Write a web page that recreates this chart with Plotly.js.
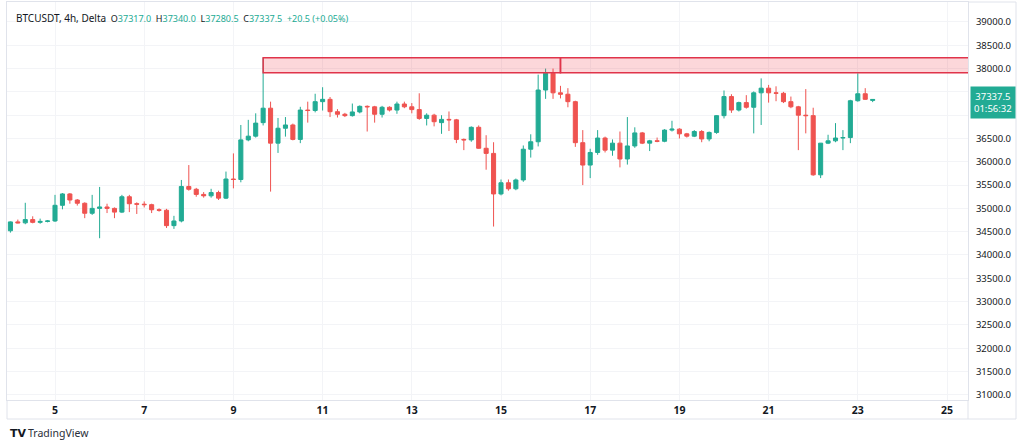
<!DOCTYPE html>
<html>
<head>
<meta charset="utf-8">
<script src="https://cdn.plot.ly/plotly-3.0.1.min.js"></script>
<style>
html,body{margin:0;padding:0;background:#fff;}
#chart{width:1024px;height:447px;}
</style>
</head>
<body>
<div id="chart"></div>
<script>
// 4h candle open times (BTCUSDT, Nov 2023)
const times = [
"2023-11-04 00:00","2023-11-04 04:00","2023-11-04 08:00","2023-11-04 12:00","2023-11-04 16:00","2023-11-04 20:00",
"2023-11-05 00:00","2023-11-05 04:00","2023-11-05 08:00","2023-11-05 12:00","2023-11-05 16:00","2023-11-05 20:00",
"2023-11-06 00:00","2023-11-06 04:00","2023-11-06 08:00","2023-11-06 12:00","2023-11-06 16:00","2023-11-06 20:00",
"2023-11-07 00:00","2023-11-07 04:00","2023-11-07 08:00","2023-11-07 12:00","2023-11-07 16:00","2023-11-07 20:00",
"2023-11-08 00:00","2023-11-08 04:00","2023-11-08 08:00","2023-11-08 12:00","2023-11-08 16:00","2023-11-08 20:00",
"2023-11-09 00:00","2023-11-09 04:00","2023-11-09 08:00","2023-11-09 12:00","2023-11-09 16:00","2023-11-09 20:00",
"2023-11-10 00:00","2023-11-10 04:00","2023-11-10 08:00","2023-11-10 12:00","2023-11-10 16:00","2023-11-10 20:00",
"2023-11-11 00:00","2023-11-11 04:00","2023-11-11 08:00","2023-11-11 12:00","2023-11-11 16:00","2023-11-11 20:00",
"2023-11-12 00:00","2023-11-12 04:00","2023-11-12 08:00","2023-11-12 12:00","2023-11-12 16:00","2023-11-12 20:00",
"2023-11-13 00:00","2023-11-13 04:00","2023-11-13 08:00","2023-11-13 12:00","2023-11-13 16:00","2023-11-13 20:00",
"2023-11-14 00:00","2023-11-14 04:00","2023-11-14 08:00","2023-11-14 12:00","2023-11-14 16:00","2023-11-14 20:00",
"2023-11-15 00:00","2023-11-15 04:00","2023-11-15 08:00","2023-11-15 12:00","2023-11-15 16:00","2023-11-15 20:00",
"2023-11-16 00:00","2023-11-16 04:00","2023-11-16 08:00","2023-11-16 12:00","2023-11-16 16:00","2023-11-16 20:00",
"2023-11-17 00:00","2023-11-17 04:00","2023-11-17 08:00","2023-11-17 12:00","2023-11-17 16:00","2023-11-17 20:00",
"2023-11-18 00:00","2023-11-18 04:00","2023-11-18 08:00","2023-11-18 12:00","2023-11-18 16:00","2023-11-18 20:00",
"2023-11-19 00:00","2023-11-19 04:00","2023-11-19 08:00","2023-11-19 12:00","2023-11-19 16:00","2023-11-19 20:00",
"2023-11-20 00:00","2023-11-20 04:00","2023-11-20 08:00","2023-11-20 12:00","2023-11-20 16:00","2023-11-20 20:00",
"2023-11-21 00:00","2023-11-21 04:00","2023-11-21 08:00","2023-11-21 12:00","2023-11-21 16:00","2023-11-21 20:00",
"2023-11-22 00:00","2023-11-22 04:00","2023-11-22 08:00","2023-11-22 12:00","2023-11-22 16:00","2023-11-22 20:00",
"2023-11-23 00:00","2023-11-23 04:00","2023-11-23 08:00"
];

const openP = [
34520,34710,34690,34760,34700,34720,34730,35066,35310,35180,
35110,34895,35000,35030,35000,34920,35250,35100,35090,35080,
34970,34960,34630,34730,35470,35410,35300,35270,35340,35220,
35630,35620,36470,36550,36840,37150,36400,36720,36790,36480,
37110,37100,37290,37340,37075,37020,36990,37070,37190,37180,
37020,37170,37110,37240,37180,37120,36930,37000,36840,36910,
36900,36480,36470,36740,36290,36180,35310,35550,35420,35610,
36270,36430,37540,37900,37480,37450,37290,36410,35930,36200,
36510,36250,36400,36060,36340,36620,36400,36450,36440,36680,
36700,36600,36550,36650,36490,36630,36990,37400,37110,37270,
37170,37480,37580,37480,37470,37290,37180,37000,36990,35720,
36400,36450,36510,36520,37310,37460,37317
];
const highP = [
34720,34760,35120,34830,34780,34750,35290,35330,35330,35200,
35130,35290,35460,35100,35020,35290,35290,35130,35150,35100,
35000,34990,34840,35610,35930,35440,35350,35420,35380,35790,
36180,36790,36900,37040,38230,37290,36940,36960,36820,37180,
37290,37460,37600,37390,37130,37050,37250,37210,37210,37200,
37200,37190,37290,37290,37260,37470,37040,37030,37000,37080,
36920,36500,36760,36780,36570,36420,35620,35620,35640,36350,
36590,37870,38000,38000,37630,37580,37310,36680,36280,36680,
36540,36480,36650,36960,36740,36640,36470,36520,36700,36880,
36720,36620,36680,36680,36650,37000,37530,37450,37290,37430,
37510,37790,37650,37620,37500,37400,37200,37560,37160,36400,
36580,36830,36680,37330,37900,37580,37340
];
const lowP = [
34480,34680,34660,34680,34670,34700,34710,34980,35100,35060,
34790,34860,34360,34900,34790,34900,34920,34880,35020,34900,
34930,34580,34560,34700,35380,35250,35230,35230,35180,35200,
35430,35560,36440,36520,36780,35360,36190,36540,36460,36400,
36840,37060,37100,36960,36950,36960,36970,37040,36650,36840,
36950,37080,37030,37150,37040,36900,36780,36760,36600,36660,
36400,36250,36430,36280,35830,34610,35280,35380,35390,35570,
36090,36330,37350,37350,37360,37170,36320,35500,35650,36150,
36200,36130,35880,35940,36300,36380,36230,36420,36420,36650,
36500,36520,36530,36420,36440,36600,36930,37050,37080,37140,
36610,36790,37270,37300,37260,37150,36250,36610,35700,35650,
36380,36420,36250,36400,37290,37330,37280.5
];
const closeP = [
34710,34690,34760,34700,34720,34730,35066,35310,35180,35110,
34895,35000,35030,35000,34920,35250,35100,35090,35080,34970,
34960,34630,34730,35470,35410,35300,35270,35340,35220,35630,
35620,36470,36550,36830,37150,36400,36720,36790,36480,37110,
37100,37290,37340,37075,37020,36990,37070,37190,37180,37020,
37170,37110,37240,37180,37120,36930,37000,36860,36910,36900,
36480,36470,36740,36290,36180,35310,35550,35420,35610,36270,
36430,37540,37900,37480,37450,37290,36410,35930,36200,36510,
36250,36400,36060,36340,36620,36400,36450,36440,36680,36700,
36600,36550,36650,36490,36630,36990,37400,37110,37270,37170,
37480,37580,37480,37470,37290,37180,37000,36990,35720,36400,
36450,36510,36520,37310,37460,37340,37337.5
];

// resistance zone drawn on the chart
const zoneLow = 37910;
const zoneHigh = 38230;
const zoneStart = "2023-11-09 16:00";
const zoneSplit = "2023-11-16 08:00";
const zoneEnd = "2023-11-26 00:00";

// axis ticks
const xTickVals = ["2023-11-05","2023-11-07","2023-11-09","2023-11-11","2023-11-13","2023-11-15","2023-11-17","2023-11-19","2023-11-21","2023-11-23","2023-11-25"];
const xTickText = ["5","7","9","11","13","15","17","19","21","23","25"];
const yTickVals = [31000,31500,32000,32500,33000,33500,34000,34500,35000,35500,36000,36500,37000,37500,38000,38500,39000];
// 37000.0 is hidden behind the last-price badge in the reference
const yTickText = ["31000.0","31500.0","32000.0","32500.0","33000.0","33500.0","34000.0","34500.0","35000.0","35500.0","36000.0","36500.0","","37500.0","38000.0","38500.0","39000.0"];

const lastPrice = 37337.5;
const countdown = "01:56:32";
const changeText = "+20.5 (+0.05%)";
const titleText = "BTCUSDT, 4h, Delta";

const UP = "#22ab94", DOWN = "#ef5350", TEXT = "#131722", BORDER = "#e0e3eb";
const FONT = "Noto Sans, Liberation Sans, sans-serif";

const trace = {
  type: "candlestick",
  x: times, open: openP, high: highP, low: lowP, close: closeP,
  increasing: {line: {color: UP, width: 1}, fillcolor: UP},
  decreasing: {line: {color: DOWN, width: 1}, fillcolor: DOWN},
  whiskerwidth: 0,
  hoverinfo: "skip",
  showlegend: false
};

// pixel helpers for paper coords (plot area x 7..968, y 2..400)
const px = v => (v - 7) / 961;
const py = v => (400 - v) / 398;

const sp = "&nbsp;&nbsp;";
const n = openP.length - 1;
const header =
  '<span style="color:' + TEXT + ';font-size:10px">' + titleText + '</span>' + sp +
  '<span style="color:' + TEXT + '">O</span><span style="color:' + UP + '">' + openP[n].toFixed(1) + '</span>' + sp +
  '<span style="color:' + TEXT + '">H</span><span style="color:' + UP + '">' + highP[n].toFixed(1) + '</span>' + sp +
  '<span style="color:' + TEXT + '">L</span><span style="color:' + UP + '">' + lowP[n].toFixed(1) + '</span>' + sp +
  '<span style="color:' + TEXT + '">C</span><span style="color:' + UP + '">' + closeP[n].toFixed(1) + '</span>' + sp +
  '<span style="color:' + UP + '">' + changeText + '</span>';

const layout = {
  width: 1024, height: 447,
  margin: {l: 7, r: 56, t: 2, b: 47},
  paper_bgcolor: "#ffffff", plot_bgcolor: "#ffffff",
  font: {family: FONT, color: TEXT, size: 10},
  boxgap: 0.22,
  xaxis: {
    type: "date",
    range: ["2023-11-03 22:10", "2023-11-25 11:18"],
    rangeslider: {visible: false},
    tickvals: xTickVals, ticktext: xTickText,
    tickfont: {size: 10.5, color: TEXT, weight: "bold", family: FONT},
    showgrid: true, gridcolor: "#f3f4f7", gridwidth: 1,
    showline: true, linecolor: BORDER, linewidth: 1, mirror: true,
    ticks: "", zeroline: false, fixedrange: true
  },
  yaxis: {
    side: "right",
    range: [30888, 39429],
    tickvals: yTickVals, ticktext: yTickText,
    tickfont: {size: 9.5, color: TEXT, family: FONT},
    ticklabelstandoff: 5,
    showgrid: true, gridcolor: "#f3f4f7", gridwidth: 1,
    showline: true, linecolor: BORDER, linewidth: 1, mirror: true,
    ticks: "", zeroline: false, fixedrange: true
  },
  shapes: [
    {type: "rect", xref: "x", yref: "y", x0: zoneStart, x1: zoneSplit, y0: zoneLow, y1: zoneHigh,
     fillcolor: "rgba(242,54,69,0.2)", line: {color: "#e0344a", width: 1.5}, layer: "above"},
    {type: "rect", xref: "x", yref: "y", x0: zoneSplit, x1: zoneEnd, y0: zoneLow, y1: zoneHigh,
     fillcolor: "rgba(242,54,69,0.2)", line: {color: "#e0344a", width: 1.5}, layer: "above"},
    // outer pane borders
    {type: "line", xref: "paper", yref: "paper", x0: px(7), x1: px(1016), y0: py(419), y1: py(419), line: {color: BORDER, width: 1}},
    {type: "line", xref: "paper", yref: "paper", x0: px(1016), x1: px(1016), y0: py(2), y1: py(419), line: {color: BORDER, width: 1}},
    {type: "line", xref: "paper", yref: "paper", x0: px(968), x1: px(1016), y0: py(2), y1: py(2), line: {color: BORDER, width: 1}},
    {type: "line", xref: "paper", yref: "paper", x0: px(7), x1: px(7), y0: py(400), y1: py(419), line: {color: BORDER, width: 1}},
    {type: "line", xref: "paper", yref: "paper", x0: px(968), x1: px(968), y0: py(400), y1: py(419), line: {color: BORDER, width: 1}}
  ],
  annotations: [
    {xref: "paper", yref: "paper", x: px(14), y: py(18), xanchor: "left", yanchor: "middle",
     text: header, showarrow: false, font: {size: 9, family: FONT}},
    {xref: "paper", yref: "y", x: px(970), y: lastPrice, yshift: -3, xanchor: "left", yanchor: "middle",
     text: lastPrice.toFixed(1) + "<br>" + countdown, showarrow: false, align: "center",
     bgcolor: UP, borderpad: 3, font: {size: 9.5, color: "#ffffff", family: FONT}},
    {xref: "paper", yref: "paper", x: px(8), y: py(433), xanchor: "left", yanchor: "middle",
     text: "<b>TV</b>", showarrow: false, font: {size: 11, color: "#131722", family: "DejaVu Sans, sans-serif"}},
    {xref: "paper", yref: "paper", x: px(26), y: py(433), xanchor: "left", yanchor: "middle",
     text: "TradingView", showarrow: false, font: {size: 10.5, color: "#2a2e39", family: FONT}}
  ]
};

Plotly.newPlot("chart", [trace], layout, {staticPlot: true, displayModeBar: false});
</script>
</body>
</html>
